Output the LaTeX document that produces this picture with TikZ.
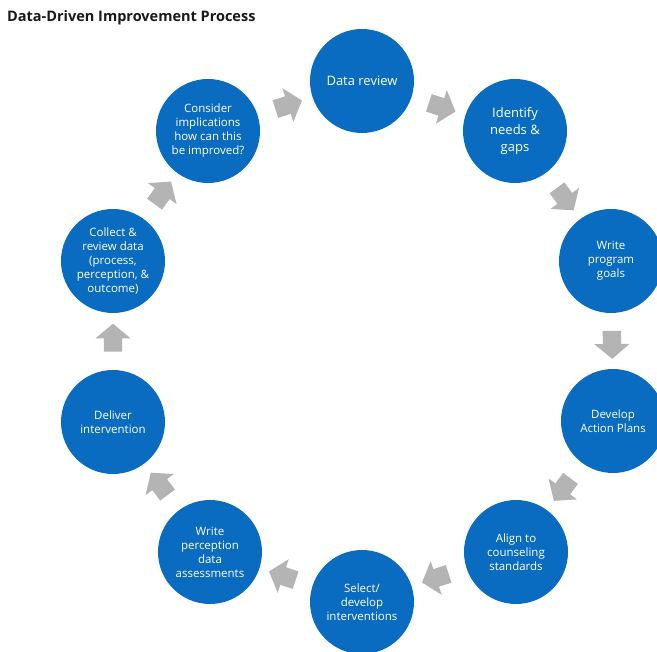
\documentclass[tikz,border=0pt]{standalone}
\usepackage{fontspec}
\setmainfont{Open Sans}
\usetikzlibrary{calc,shapes.arrows}
\definecolor{stepblue}{RGB}{10,108,192}
\definecolor{arrowgray}{RGB}{180,180,180}
\definecolor{titlegray}{RGB}{25,25,25}
\begin{document}
\begin{tikzpicture}[x=1pt,y=-1pt,
  stepnode/.style={circle, fill=stepblue, minimum size=104pt, inner sep=0pt,
    text=white, align=center, font=\fontsize{11.5}{14}\selectfont},
  bigtext/.style={font=\fontsize{13}{17}\selectfont},
  flow/.style={single arrow, fill=arrowgray, draw=none, inner xsep=0pt, inner ysep=9pt,
    minimum height=28pt, single arrow head extend=8.5pt, single arrow tip angle=100}]
\useasboundingbox (0,0) rectangle (657,652);
\node[anchor=west, inner sep=0pt, text=titlegray, font=\fontsize{14.5}{17}\selectfont\bfseries] (title) at (7,18) {Data-Driven Improvement Process};
\node[stepnode, bigtext] (c1) at (362,81) {Data review};
\node[stepnode, bigtext] (c2) at (515,131) {Identify\\needs \&\\gaps};
\node[stepnode] (c3) at (611,261) {Write\\program\\goals};
\node[stepnode] (c4) at (613,421) {Develop\\Action Plans};
\node[stepnode] (c5) at (516,552) {Align to\\counseling\\standards};
\node[stepnode] (c6) at (362,602) {Select/\\develop\\interventions};
\node[stepnode] (c7) at (210,552) {Write\\perception\\data\\assessments};
\node[stepnode] (c8) at (113,422) {Deliver\\intervention};
\node[stepnode] (c9) at (113,261) {Collect \&\\review data\\(process,\\perception, \&\\outcome)};
\node[stepnode] (c10) at (208,131) {Consider\\implications\\how can this\\be improved?};
\foreach \a/\b/\nm in {c1/c2/a1, c2/c3/a2, c3/c4/a3, c4/c5/a4, c5/c6/a5, c6/c7/a6, c7/c8/a7, c8/c9/a8, c9/c10/a9, c10/c1/a10}{
  \path let \p1=($(\b)-(\a)$), \n1={atan2(\y1,\x1)} in
    node[flow, rotate=\n1] (\nm) at ($(\a)!0.5!(\b)$) {};
}
\end{tikzpicture}
\end{document}
